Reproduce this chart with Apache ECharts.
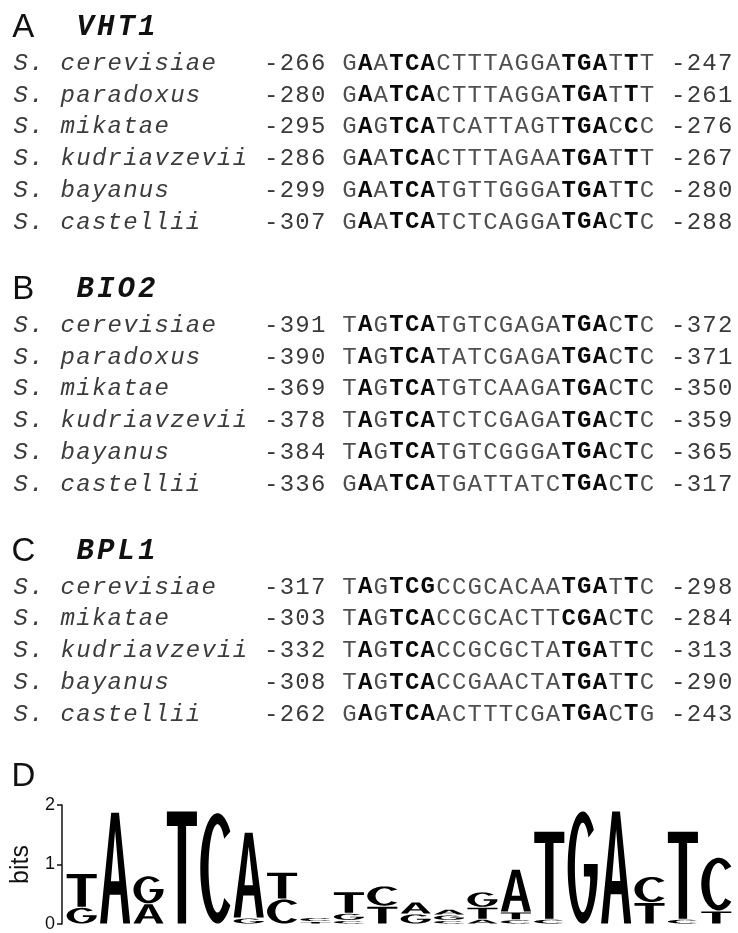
<!DOCTYPE html>
<html>
<head>
<meta charset="utf-8">
<script src="https://cdn.jsdelivr.net/npm/echarts@6/dist/echarts.min.js"></script>
<style>
  html, body { margin: 0; padding: 0; background: #fff; }
  #chart { width: 738px; height: 933px; }
</style>
</head>
<body>
<div id="chart"></div>
<script>
// ---- Alignment panels ----
const panelLetters = ['A', 'B', 'C'];
const panelGenes = ['VHT1', 'BIO2', 'BPL1'];

const speciesA = ['S. cerevisiae', 'S. paradoxus', 'S. mikatae', 'S. kudriavzevii', 'S. bayanus', 'S. castellii'];
const startA = ['-266', '-280', '-295', '-286', '-299', '-307'];
const seqA = ['GAATCACTTTAGGATGATTT', 'GAATCACTTTAGGATGATTT', 'GAGTCATCATTAGTTGACCC',
              'GAATCACTTTAGAATGATTT', 'GAATCATGTTGGGATGATTC', 'GAATCATCTCAGGATGACTC'];
const endA = ['-247', '-261', '-276', '-267', '-280', '-288'];

const speciesB = ['S. cerevisiae', 'S. paradoxus', 'S. mikatae', 'S. kudriavzevii', 'S. bayanus', 'S. castellii'];
const startB = ['-391', '-390', '-369', '-378', '-384', '-336'];
const seqB = ['TAGTCATGTCGAGATGACTC', 'TAGTCATATCGAGATGACTC', 'TAGTCATGTCAAGATGACTC',
              'TAGTCATCTCGAGATGACTC', 'TAGTCATGTCGGGATGACTC', 'GAATCATGATTATCTGACTC'];
const endB = ['-372', '-371', '-350', '-359', '-365', '-317'];

const speciesC = ['S. cerevisiae', 'S. mikatae', 'S. kudriavzevii', 'S. bayanus', 'S. castellii'];
const startC = ['-317', '-303', '-332', '-308', '-262'];
const seqC = ['TAGTCGCCGCACAATGATTC', 'TAGTCACCGCACTTCGACTC', 'TAGTCACCGCGCTATGATTC',
              'TAGTCACCGAACTATGATTC', 'GAGTCAACTTTCGATGACTG'];
const endC = ['-298', '-284', '-313', '-290', '-243'];

// alignment columns set in bold (core of the motif)
const boldSites = [1, 3, 4, 5, 14, 15, 16, 18];

// ---- Sequence logo (panel D) ----
const logoLabel = 'D';
const logoPositions = ['1','2','3','4','5','6','7','8','9','10','11','12','13','14','15','16','17','18','19','20'];
// letters of each stack, listed bottom to top, with their heights in bits
const logoLetters = ['GT', 'A', 'AG', 'T', 'C', 'GA', 'CT', 'TC', 'CGT', 'TC',
                     'GA', 'CGA', 'ATG', 'CTA', 'CT', 'G', 'A', 'TC', 'CT', 'TC'];
const logoBits = [
  [0.28, 0.57], [1.88], [0.34, 0.47], [1.9], [1.87],
  [0.1, 1.44], [0.42, 0.45], [0.04, 0.07], [0.06, 0.12, 0.36], [0.3, 0.34],
  [0.17, 0.2], [0.06, 0.09, 0.1], [0.08, 0.2, 0.26], [0.07, 0.13, 0.72], [0.08, 1.48],
  [1.9], [1.9], [0.36, 0.44], [0.08, 1.48], [0.22, 0.9]
];
const bitsTicks = [0, 1, 2];

// ---- text layout ----
const HEADER_ABOVE = 1.13;   // header line sits this many rows above the first row
const BLOCK_STEP = 3.25;     // distance from a block's last row to the next block's first row
const D_BELOW = 1.97;        // panel D label below the last alignment row
const COL_SPECIES = 0, COL_START = 16, COL_SEQ = 21, COL_END = 42;
const PANEL_COL = 0.66, GENE_COL = 3.96, GENE_PITCH = 1.31;

const textStyles = {
  species: { font: 'italic 24px "Liberation Mono"', fill: '#3c3c3c' },
  num:     { font: '24px "Liberation Mono"', fill: '#3a3a3a' },
  seq:     { font: '24px "Liberation Mono"', fill: '#505050' },
  bold:    { font: 'bold 24px "Liberation Mono"', fill: '#0a0a0a' },
  panel:   { font: '33px "Liberation Sans"', fill: '#111' },
  gene:    { font: 'italic bold 29px "Liberation Mono"', fill: '#111' }
};

const blocks = [
  { letter: panelLetters[0], gene: panelGenes[0], species: speciesA, start: startA, seq: seqA, end: endA },
  { letter: panelLetters[1], gene: panelGenes[1], species: speciesB, start: startB, seq: seqB, end: endB },
  { letter: panelLetters[2], gene: panelGenes[2], species: speciesC, start: startC, seq: seqC, end: endC }
];

const textItems = [];
function putString(str, col0, line, kind, pitch) {
  for (let i = 0; i < str.length; i++) {
    if (str[i] === ' ') continue;
    textItems.push({ col: col0 + (i + 0.5) * pitch, line: line, ch: str[i], kind: typeof kind === 'function' ? kind(i) : kind });
  }
}

let firstRow = 0, lastRow = 0;
blocks.forEach(b => {
  const headLine = firstRow - HEADER_ABOVE;
  putString(b.letter, PANEL_COL - 0.5, headLine, 'panel', 1);
  putString(b.gene, GENE_COL, headLine, 'gene', GENE_PITCH);
  b.species.forEach((sp, r) => {
    const line = firstRow + r;
    putString(sp, COL_SPECIES, line, 'species', 1);
    putString(b.start[r], COL_START, line, 'num', 1);
    putString(b.seq[r], COL_SEQ, line, i => boldSites.indexOf(i) >= 0 ? 'bold' : 'seq', 1);
    putString(b.end[r], COL_END, line, 'num', 1);
    lastRow = line;
  });
  firstRow = lastRow + BLOCK_STEP;
});
putString(logoLabel, PANEL_COL - 0.5, lastRow + D_BELOW, 'panel', 1);

// ---- glyph outlines for the logo letters (100 x 100 box, stretched to each cell) ----
function arc(rx, ry, a0, a1, n) {
  const pts = [];
  for (let k = 0; k <= n; k++) {
    const a = (a0 + (a1 - a0) * k / n) * Math.PI / 180;
    pts.push([50 + rx * Math.cos(a), 50 - ry * Math.sin(a)]);
  }
  return pts;
}
function poly(pts) {
  return 'M' + pts.map(p => p[0].toFixed(2) + ' ' + p[1].toFixed(2)).join('L') + 'Z';
}
const glyphs = {
  T: 'M0 0H100V13H64V100H36V13H0Z',
  A: 'M0 100L37 0H63L100 100H77L68 74H32L23 100Z M36 62H64L50 16Z',
  C: poly(arc(50, 50, 42, 318, 60).concat(arc(26, 40, 318, 42, 60))),
  G: poly(arc(50, 50, 42, 355, 64)
          .concat([[100, 47], [54, 47], [54, 58], [74, 58]])
          .concat(arc(26, 40, 345, 42, 60)))
};

const logoData = [];
const logoGlyph = [];
logoBits.forEach((hs, col) => {
  let base = 0;
  hs.forEach((h, k) => {
    logoData.push([col, base, base + h]);
    logoGlyph.push(logoLetters[col][k]);
    base += h;
  });
});

const chart = echarts.init(document.getElementById('chart'), null, { renderer: 'canvas' });
chart.setOption({
  backgroundColor: '#fff',
  animation: false,
  grid: [
    { left: 13, right: 5, top: 0, height: 920.75 },
    { left: 65, right: 5, top: 805, bottom: 6 }
  ],
  xAxis: [
    { gridIndex: 0, type: 'value', min: 0, max: 46, show: false },
    { gridIndex: 1, type: 'category', data: logoPositions, show: false, boundaryGap: true }
  ],
  yAxis: [
    { gridIndex: 0, type: 'value', min: -2, max: 27, inverse: true, show: false },
    {
      gridIndex: 1, type: 'value', min: bitsTicks[0], max: bitsTicks[bitsTicks.length - 1], interval: 1,
      offset: 3,
      name: 'bits', nameLocation: 'middle', nameRotate: 90, nameGap: 12,
      nameTextStyle: { fontFamily: 'Liberation Sans', fontSize: 25, color: '#111' },
      axisLine: { show: true, lineStyle: { color: '#111', width: 1.5 } },
      axisTick: { show: true, inside: false, length: 5, lineStyle: { color: '#111', width: 1.5 } },
      axisLabel: { fontFamily: 'Liberation Sans', fontSize: 18, color: '#111', margin: 7 },
      splitLine: { show: false }
    }
  ],
  series: [
    {
      type: 'custom',
      xAxisIndex: 0, yAxisIndex: 0,
      data: textItems.map(t => [t.col, t.line]),
      renderItem: (params, api) => {
        const it = textItems[params.dataIndex];
        const st = textStyles[it.kind];
        const p = api.coord([api.value(0), api.value(1)]);
        return {
          type: 'text', x: p[0], y: p[1],
          style: {
            text: it.ch, font: st.font, fill: st.fill,
            align: 'center', verticalAlign: 'middle',
            textAlign: 'center', textVerticalAlign: 'middle'
          }
        };
      }
    },
    {
      type: 'custom',
      xAxisIndex: 1, yAxisIndex: 1,
      encode: { x: 0, y: [1, 2] },
      data: logoData,
      renderItem: (params, api) => {
        const g = logoGlyph[params.dataIndex];
        const bottom = api.coord([api.value(0), api.value(1)]);
        const top = api.coord([api.value(0), api.value(2)]);
        const bw = api.size([1, 0])[0];
        const w = bw * 0.9;
        const h = Math.max(bottom[1] - top[1] - 1, 0.6);
        return {
          type: 'path',
          shape: { pathData: glyphs[g], x: bottom[0] - w / 2, y: top[1] + 0.5, width: w, height: h, layout: 'cover' },
          style: { fill: '#000' }
        };
      }
    }
  ]
});
</script>
</body>
</html>
